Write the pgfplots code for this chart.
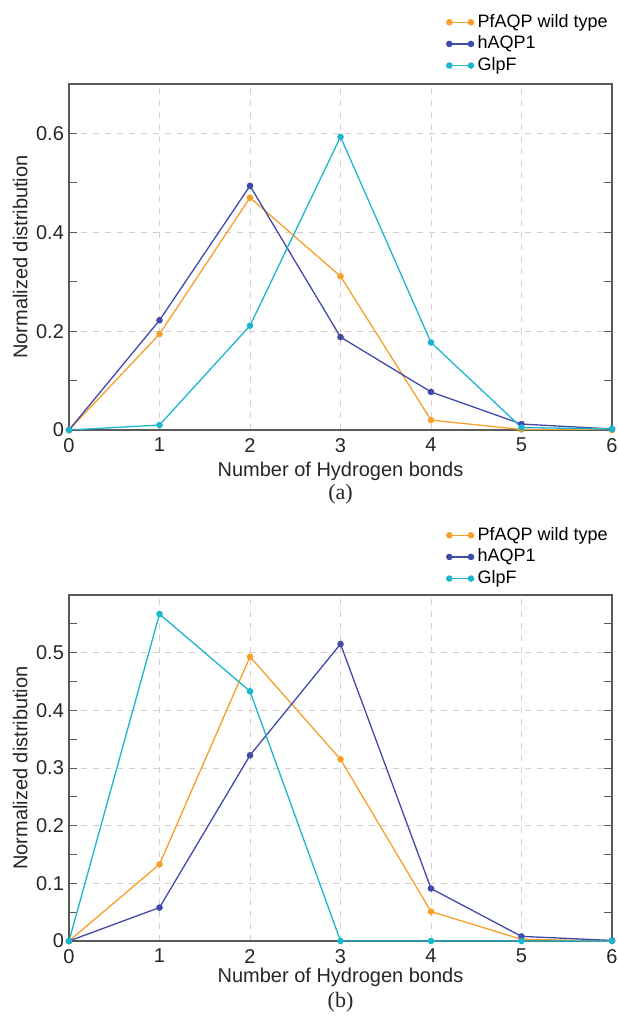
\documentclass[border=0pt]{standalone}
\usepackage{pgfplots}
\pgfplotsset{compat=1.18}
\usepackage{fontspec}
\setmainfont{Liberation Sans}
\newfontfamily\seriffont{Liberation Serif}
\definecolor{cOr}{RGB}{246,160,42}
\definecolor{cBl}{RGB}{64,74,168}
\definecolor{cCy}{RGB}{28,182,206}
\definecolor{cGrid}{RGB}{218,205,205}
\definecolor{cAx}{RGB}{90,90,90}
\pgfplotsset{
  hb/.style={
    scale only axis, width=271.5pt, height=173pt,
    xmin=0, xmax=6, xtick={0,1,2,3,4,5,6},
    axis line style={cAx, line width=0.7pt},
    grid=major,
    major grid style={cGrid, dashed, line width=0.5pt},
    tick style={cAx, line width=0.5pt},
    tick align=inside,
    major tick length=4pt, minor tick length=4pt,
    xtick pos=bottom, ytick pos=both,
    x tick style={draw=none},
    tick label style={font=\fontsize{10}{12}\selectfont, text=black!85},
    /pgf/number format/assume math mode=true,
    label style={font=\fontsize{10}{12}\selectfont, text=black!85},
    xlabel={Number of Hydrogen bonds},
    ylabel={Normalized distribution},
    ylabel style={at={(axis description cs:-0.09,0.5)}, anchor=center},
    xlabel style={at={(axis description cs:0.5,0)}, yshift=-16pt, anchor=north, inner sep=0pt},
    xticklabel style={yshift=-0.5pt},
    yticklabel style={xshift=1pt},
    legend style={at={(1,1)}, anchor=south east, yshift=2pt, xshift=1pt,
      draw=none, fill=none, font=\fontsize{9}{11}\selectfont,
      row sep=-1.2pt, inner sep=1pt},
    legend cell align=left,
    legend image code/.code={\draw[#1] plot coordinates {(0cm,0cm) (0.38cm,0cm)};},
    every axis plot/.append style={line width=0.65pt, mark=*, mark size=1.3pt},
  }
}
\begin{document}
\begin{tikzpicture}
\useasboundingbox (-34.5pt,-295pt) rectangle (274pt,215pt);
\begin{axis}[hb, name=a,
  ymin=0, ymax=0.7,
  ytick={0,0.2,0.4,0.6}, yticklabels={0,0.2,0.4,0.6},
  minor ytick={0.1,0.3,0.5},
]
\addplot[cOr, mark options={fill=cOr}] coordinates {(0,0) (1,0.194) (2,0.470) (3,0.311) (4,0.020) (5,0.001) (6,0.0)};
\addlegendentry{PfAQP wild type}
\addplot[cBl, mark options={fill=cBl}] coordinates {(0,0) (1,0.222) (2,0.494) (3,0.188) (4,0.077) (5,0.012) (6,0.002)};
\addlegendentry{hAQP1}
\addplot[cCy, mark options={fill=cCy}] coordinates {(0,0) (1,0.010) (2,0.211) (3,0.593) (4,0.177) (5,0.005) (6,0.002)};
\addlegendentry{GlpF}
\end{axis}
\node[font=\seriffont\fontsize{11}{13}\selectfont, text=black!85, inner sep=0pt] at (135.75pt,-32pt) {(a)};
\begin{axis}[hb, name=b, at={(0,-255.5pt)},
  ymin=0, ymax=0.6,
  ytick={0,0.1,0.2,0.3,0.4,0.5}, yticklabels={0,0.1,0.2,0.3,0.4,0.5},
  minor ytick={0.05,0.15,0.25,0.35,0.45,0.55},
  legend style={yshift=-1pt},
  xlabel style={yshift=2.5pt},
]
\addplot[cOr, mark options={fill=cOr}] coordinates {(0,0) (1,0.133) (2,0.493) (3,0.315) (4,0.051) (5,0.003) (6,0.0)};
\addlegendentry{PfAQP wild type}
\addplot[cBl, mark options={fill=cBl}] coordinates {(0,0) (1,0.058) (2,0.322) (3,0.515) (4,0.091) (5,0.008) (6,0.001)};
\addlegendentry{hAQP1}
\addplot[cCy, mark options={fill=cCy}] coordinates {(0,0) (1,0.567) (2,0.433) (3,0.0) (4,0.0) (5,0.0) (6,0.0)};
\addlegendentry{GlpF}
\end{axis}
\node[font=\seriffont\fontsize{11}{13}\selectfont, text=black!85, inner sep=0pt] at (135.75pt,-255.5pt-30.5pt) {(b)};
\end{tikzpicture}
\end{document}
